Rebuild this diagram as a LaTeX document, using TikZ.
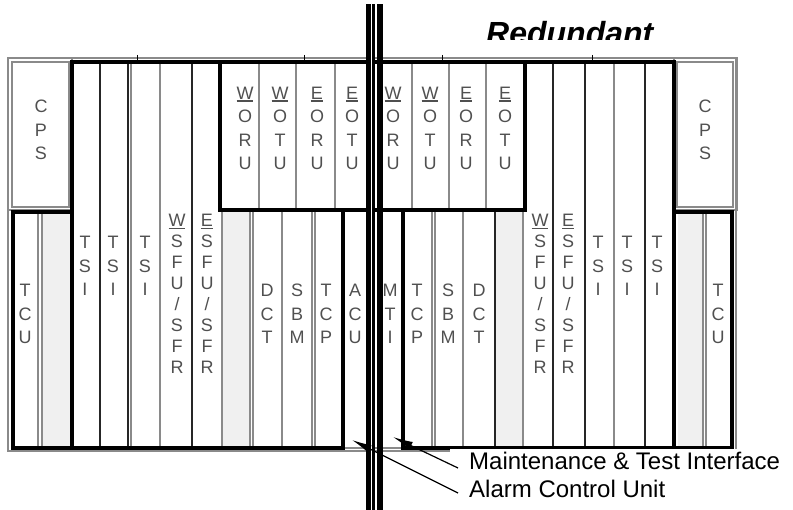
\documentclass[tikz,border=0pt]{standalone}
\usepackage{fontspec}
\setmainfont{Liberation Sans}
\usetikzlibrary{arrows.meta,calc}
\definecolor{divgray}{HTML}{8A8A8A}
\definecolor{shadefill}{HTML}{F0F0F0}
\definecolor{txtgray}{HTML}{505050}
\newcommand\ulet[1]{\setbox0\hbox{#1}\rlap{\rule[-2.2pt]{\wd0}{1.1pt}}\box0}
\begin{document}
\begin{tikzpicture}[x=1pt,y=-1pt,
  heavy/.style={line width=4pt,black,line cap=rect,line join=miter},
  gdiv/.style={draw=divgray,line width=1.2pt},
  bdiv/.style={draw=black!85,line width=1.2pt},
  gframe/.style={draw=divgray,line width=1.2pt},
  slot/.style={font=\fontsize{18}{23.5}\selectfont,text=txtgray,align=center,inner sep=0pt},
  slotsfu/.style={font=\fontsize{18}{21}\selectfont,text=txtgray,align=center,inner sep=0pt},
  lbl/.style={font=\fontsize{24}{28}\selectfont,inner sep=0pt},
  arr/.style={-{Latex[length=20pt,width=8pt]},line width=1.2pt}]
\useasboundingbox (0,0) rectangle (793,510);
% shaded empty slots
\fill[shadefill] (42,212) rectangle (70,448);
\fill[shadefill] (222,212) rectangle (250,448);
\fill[shadefill] (495,210) rectangle (523,448);
\fill[shadefill] (678,212) rectangle (703,448);
% outer gray frame
\draw[gframe] (8,58) rectangle (736,451);
\draw[gframe] (8,58) rectangle (72,210);
\draw[gframe] (12,62) rectangle (69,207);
\draw[gframe] (674,58) rectangle (737,210);
\draw[gframe] (677,62) rectangle (733,207);
% ticks
\foreach \tx in {137,304,442,592} \draw[line width=1pt] (\tx,55) -- (\tx,62);
% upper WORU dividers
\foreach \dx in {259,296,335,412,449,486} \draw[gdiv] (\dx,62) -- (\dx,210);
% full height dividers
\foreach \dx in {100,128,192,553,585,645} \draw[bdiv] (\dx,62) -- (\dx,448);
\foreach \dx in {131,160,614} \draw[gdiv] (\dx,62) -- (\dx,448);
% lower dividers
\foreach \dx in {38,42,222,250,253,282,312,315,432,435,463,523,703,706} \draw[gdiv] (\dx,212) -- (\dx,448);
\draw[bdiv] (495,210) -- (495,448);
\draw[gdiv] (343,448) -- (403,448);
% heavy outlines
\draw[heavy] (72,448) -- (72,62) -- (220,62);
\draw[heavy] (13,212) -- (72,212);
\draw[heavy] (13,212) -- (13,448) -- (343,448) -- (343,210);
\draw[heavy] (220,62) rectangle (525,210);
\draw[heavy] (525,62) -- (674,62) -- (674,448);
\draw[heavy] (403,210) -- (403,448) -- (732,448) -- (732,212) -- (674,212);
% slot labels
\node[slot] (cpsL) at (41,130) {C\\P\\S};
\node[slot] (cpsR) at (705,130) {C\\P\\S};
\node[slot] (tcuL) at (25,314) {T\\C\\U};
\node[slot] (tcuR) at (718,314) {T\\C\\U};
\node[slot] (tsiL1) at (85,266) {T\\S\\I};
\node[slot] (tsiL2) at (113,266) {T\\S\\I};
\node[slot] (tsiL3) at (145,266) {T\\S\\I};
\node[slot] (tsiR1) at (598,266) {T\\S\\I};
\node[slot] (tsiR2) at (627,266) {T\\S\\I};
\node[slot] (tsiR3) at (657,266) {T\\S\\I};
\node[slotsfu] (wsfuL) at (177,294) {\ulet{W}\\S\\F\\U\\/\\S\\F\\R};
\node[slotsfu] (esfuL) at (207,294) {\ulet{E}\\S\\F\\U\\/\\S\\F\\R};
\node[slotsfu] (wsfuR) at (540,294) {\ulet{W}\\S\\F\\U\\/\\S\\F\\R};
\node[slotsfu] (esfuR) at (568,294) {\ulet{E}\\S\\F\\U\\/\\S\\F\\R};
\node[slot] (woruL) at (245,128.5) {\ulet{W}\\O\\R\\U};
\node[slot] (wotuL) at (280,128.5) {\ulet{W}\\O\\T\\U};
\node[slot] (eoruL) at (317,128.5) {\ulet{E}\\O\\R\\U};
\node[slot] (eotuL) at (352,128.5) {\ulet{E}\\O\\T\\U};
\node[slot] (woruR) at (393,128.5) {\ulet{W}\\O\\R\\U};
\node[slot] (wotuR) at (430,128.5) {\ulet{W}\\O\\T\\U};
\node[slot] (eoruR) at (466,128.5) {\ulet{E}\\O\\R\\U};
\node[slot] (eotuR) at (505,128.5) {\ulet{E}\\O\\T\\U};
\node[slot] (dctL) at (267,314) {D\\C\\T};
\node[slot] (sbmL) at (297,314) {S\\B\\M};
\node[slot] (tcpL) at (326,314) {T\\C\\P};
\node[slot] (acu) at (355,314) {A\\C\\U};
\node[slot] (mti) at (390,314) {M\\T\\I};
\node[slot] (tcpR) at (417,314) {T\\C\\P};
\node[slot] (sbmR) at (448,314) {S\\B\\M};
\node[slot] (dctR) at (479,314) {D\\C\\T};
% title (clipped)
\begin{scope}
\clip (0,0) rectangle (793,40);
\node[anchor=base west,inner sep=0pt,font=\fontsize{32}{32}\selectfont\bfseries\itshape] (title) at (486,45) {Redundant};
\end{scope}
% white area below right part
\fill[white] (450,449) rectangle (793,510);
% redundancy bar
\fill[black] (366,4) rectangle (375,510);
\fill[black] (377,4) rectangle (383,510);
\draw[white,line width=0.5pt] (371.5,4) -- (371.5,510);
% labels and arrows
\node[lbl,anchor=base west] (mtilbl) at (469,470) {Maintenance \& Test Interface};
\node[lbl,anchor=base west] (aculbl) at (469,498) {Alarm Control Unit};
\coordinate (mtitip) at (393,437);
\coordinate (acutip) at (352,440);
\draw[arr] ($(mtilbl.base west)+(-11,-2)$) -- (mtitip);
\draw[arr] ($(aculbl.base west)+(-11,-5)$) -- (acutip);
\end{tikzpicture}
\end{document}
